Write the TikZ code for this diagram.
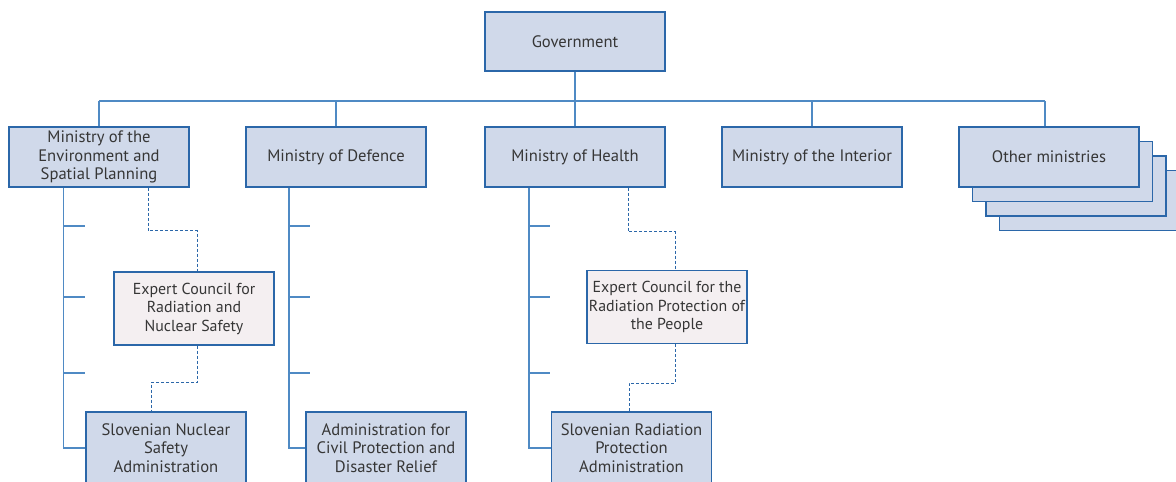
\documentclass[tikz,border=0pt]{standalone}
\usepackage{fontspec}
\setmainfont{PT Sans}
\usetikzlibrary{positioning}
\definecolor{boxfill}{HTML}{D0D9EA}
\definecolor{boxedge}{HTML}{2B67A9}
\definecolor{wirecol}{HTML}{4F8AC4}
\definecolor{councilfill}{HTML}{F4EFF1}
\definecolor{ink}{HTML}{363636}
\pgfdeclarelayer{background}
\pgfsetlayers{background,main}

\tikzset{
  unit/.style={draw=boxedge, fill=boxfill, line width=1.1pt, text=ink, align=center,
    minimum width=180pt, minimum height=60pt, inner sep=2pt,
    font=\fontsize{16.6}{18.5}\selectfont},
  council/.style={unit, fill=councilfill, minimum width=160pt, minimum height=73pt,
    inner xsep=1pt, font=\fontsize{15.9}{18.5}\selectfont},
  office/.style={unit, minimum width=160pt, minimum height=72pt},
  wire/.style={draw=wirecol, line width=1.1pt},
  dotwire/.style={draw=boxedge, line width=1pt, dash pattern=on 3pt off 2pt}
}

\begin{document}
\begin{tikzpicture}[x=1pt, y=-1pt, node distance=55.9pt]
  \useasboundingbox (0,0) rectangle (1176,482);
  \clip (0,0) rectangle (1176,482);

  % top level
  \node[unit, minimum height=59pt] (gov) at (575,41.5) {Government};

  % ministries
  \node[unit] (env) at (99,157) {Ministry of the\\Environment and\\Spatial Planning};
  \node[unit] (mod) [right=of env] {Ministry of Defence};
  \node[unit] (moh) [right=57.9pt of mod] {Ministry of Health};
  \node[unit] (moi) [right=of moh] {Ministry of the Interior};
  \node[unit] (oth) [right=of moi] {Other ministries};
  \begin{pgfonlayer}{background}
    \foreach \k in {3,2,1}
      \node[unit] (oth\k) at ([shift={({13.5*\k},{14.5*\k})}]oth.center) {};
  \end{pgfonlayer}

  % councils and administrations
  \node[council] (ecrns) at (194,308.5) {Expert Council for\\Radiation and\\Nuclear Safety};
  \node[council] (ecrpp) at (667,307) {Expert Council for the\\Radiation Protection of\\the People};
  \node[office] (snsa) at (166,448) {Slovenian Nuclear\\Safety\\Administration};
  \node[office] (acpdr) at (386,448) {Administration for\\Civil Protection and\\Disaster Relief};
  \node[office] (srpa) at (631.5,448) {Slovenian Radiation\\Protection\\Administration};

  % bus from the government
  \coordinate (bus) at (575,101);
  \coordinate (othtop) at ([xshift=-4pt]oth.north);
  \draw[wire] (env.north |- bus) -- (othtop |- bus);
  \draw[wire] (gov) -- (gov.south |- bus);
  \foreach \m in {env,mod,moh,moi}
    \draw[wire] (\m.north) -- (\m.north |- bus);
  \draw[wire] (othtop) -- (othtop |- bus);

  % trunks with their stubs
  \coordinate (envtrunk) at ([xshift=-35.5pt]env.south);
  \coordinate (modtrunk) at ([xshift=-47pt]mod.south);
  \coordinate (mohtrunk) at ([xshift=-46pt]moh.south);
  \draw[wire] (envtrunk) |- (snsa);
  \draw[wire] (modtrunk) |- (acpdr);
  \draw[wire] (mohtrunk) |- (srpa);
  \foreach \t in {envtrunk,modtrunk,mohtrunk}
    \foreach \y in {226,297,373}
      \draw[wire] (\t |- 0,\y) -- ++(21,0);

  % advisory links
  \draw[dotwire] ([xshift=49pt]env.south) -- ++(0,43) -| ([xshift=3pt]ecrns.north);
  \draw[dotwire] ([xshift=3pt]ecrns.south) -- ++(0,37) -| ([xshift=-15pt]snsa.north);
  \draw[dotwire] ([xshift=53pt]moh.south) -- ++(0,44) -| ([xshift=8pt]ecrpp.north);
  \draw[dotwire] ([xshift=8pt]ecrpp.south) -- ++(0,39) -| ([xshift=-2.5pt]srpa.north);
\end{tikzpicture}
\end{document}
